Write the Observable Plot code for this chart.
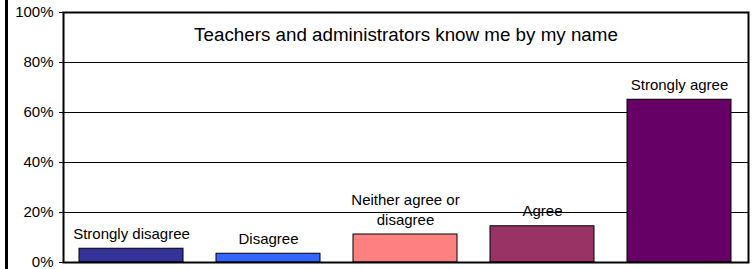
<!DOCTYPE html>
<html>
<head>
<meta charset="utf-8">
<script src="https://cdn.jsdelivr.net/npm/d3@7"></script>
<script src="https://cdn.jsdelivr.net/npm/@observablehq/plot@0.6"></script>
<style>
  html, body { margin: 0; padding: 0; background: #fff; }
  #wrap { position: relative; width: 752px; height: 269px; overflow: hidden; }
  #edge { position: absolute; left: 5px; top: 0; width: 3px; height: 269px; background: #000; }
  svg { font-family: "Liberation Sans", Arial, sans-serif; }
</style>
</head>
<body>
<div id="wrap"><div id="edge"></div></div>
<script>
const title = "Teachers and administrators know me by my name";
const categories = ["Strongly disagree", "Disagree", "Neither agree or disagree", "Agree", "Strongly agree"];
const labels = ["Strongly disagree", "Disagree", "Neither agree or\ndisagree", "Agree", "Strongly agree"];
const values = [0.055, 0.035, 0.112, 0.145, 0.651];
const colors = ["#333399", "#3366FF", "#FF8080", "#993366", "#660066"];
const yTicks = [0, 0.2, 0.4, 0.6, 0.8, 1.0];
const gridValues = [0.2, 0.4, 0.6, 0.8];

const data = categories.map((c, i) => ({category: c, label: labels[i], value: values[i], color: colors[i]}));

const chart = Plot.plot({
  width: 752,
  height: 269,
  marginLeft: 63,
  marginRight: 4,
  marginTop: 12,
  marginBottom: 7,
  style: {fontFamily: "'Liberation Sans', Arial, sans-serif", fontSize: "15px", color: "#000", background: "transparent"},
  x: {domain: categories, paddingInner: 0.24, paddingOuter: 0.12, axis: null},
  y: {domain: [0, 1], ticks: yTicks, tickFormat: d3.format(".0%"), tickSize: 4, tickPadding: 6, label: null},
  marks: [
    Plot.ruleY(gridValues, {stroke: "#000", strokeWidth: 1}),
    Plot.barY(data, {x: "category", y: "value", fill: "color", stroke: "#000", strokeWidth: 1}),
    Plot.text(data, {x: "category", y: "value", text: "label", lineAnchor: "bottom", dy: -10, fontSize: 15, lineHeight: 1.33, fill: "#000", ariaLabel: "bar-labels"}),
    Plot.text([title], {frameAnchor: "top", lineAnchor: "middle", dy: 22, fontSize: 18.8, fill: "#000"}),
    Plot.frame({stroke: "#000", strokeWidth: 2})
  ]
});

document.getElementById("wrap").appendChild(chart);

// white boxes behind data labels (hide gridlines like the original)
const g = chart.querySelector('g[aria-label="bar-labels"]');
if (g) {
  g.querySelectorAll("text").forEach(t => {
    const bb = t.getBBox();
    const r = document.createElementNS("http://www.w3.org/2000/svg", "rect");
    r.setAttribute("x", bb.x - 3);
    r.setAttribute("y", bb.y - 1);
    r.setAttribute("width", bb.width + 6);
    r.setAttribute("height", bb.height + 2);
    r.setAttribute("fill", "#fff");
    const tr = t.getAttribute("transform");
    if (tr) r.setAttribute("transform", tr);
    g.insertBefore(r, t);
  });
}
</script>
</body>
</html>
